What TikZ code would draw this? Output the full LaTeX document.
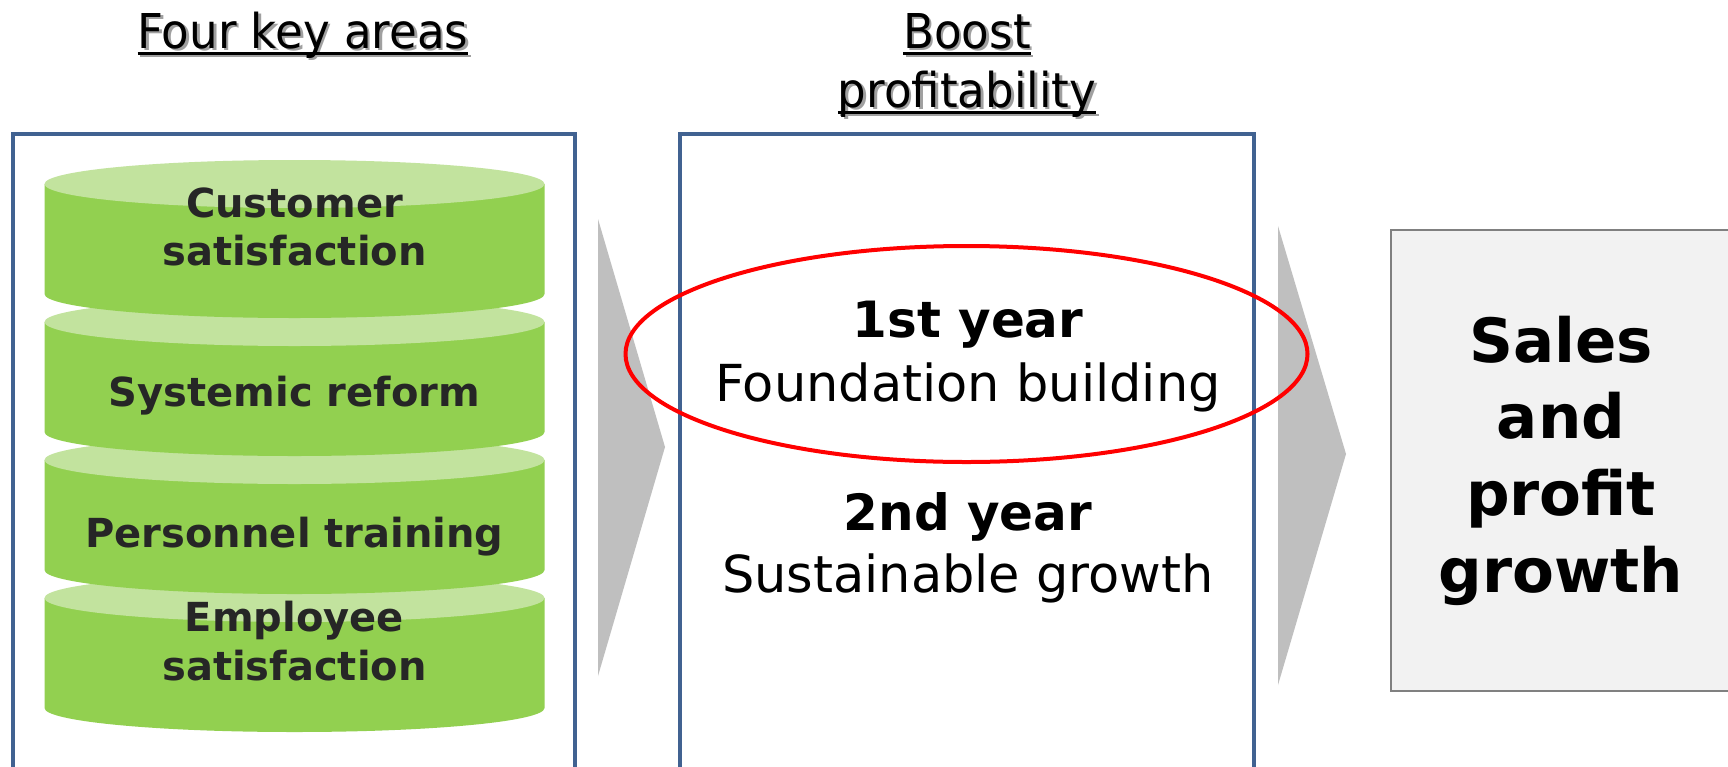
\documentclass[tikz,border=0pt]{standalone}
\usepackage{fontspec}
\setmainfont{DejaVu Sans}
\newfontfamily\headfont[FakeStretch=0.94]{DejaVu Sans}
\definecolor{boxblue}{RGB}{65,98,145}
\definecolor{cylbody}{RGB}{146,208,80}
\definecolor{cyltop}{RGB}{194,227,158}
\definecolor{cyltext}{RGB}{38,38,38}
\definecolor{arrowgray}{RGB}{191,191,191}
\definecolor{resultfill}{RGB}{242,242,242}
\definecolor{resultline}{RGB}{128,128,128}
\definecolor{shadowgray}{RGB}{160,160,160}
\begin{document}
\begin{tikzpicture}[x=1pt,y=-1pt,
  every node/.style={inner sep=0pt,outer sep=0pt},
  headtext/.style={anchor=base,font=\headfont\fontsize{48}{56}\selectfont},
  headshadow/.style={headtext,text=shadowgray},
  cyllabel/.style={anchor=base,text=cyltext,font=\fontsize{40}{48}\selectfont\bfseries},
  yearlabel/.style={anchor=base,font=\fontsize{50}{60}\selectfont\bfseries},
  phaselabel/.style={anchor=base,font=\fontsize{51}{60}\selectfont},
  resultlabel/.style={anchor=base,font=\fontsize{61}{72}\selectfont\bfseries},
  panel/.style={draw=boxblue,line width=3.5pt,fill=white},
  chevron/.style={fill=arrowgray,draw=none},
]
\useasboundingbox (0,0) rectangle (1728,766);
\clip (0,0) rectangle (1728,766);
\fill[white] (0,0) rectangle (1728,766);

% headings with a soft drop shadow and underline
\newcommand{\heading}[4]{%
  \node[headshadow] (#1s) at (#2+2.5,#3+2.5) {#4};
  \draw[shadowgray,line width=2.6pt] ([yshift=-5.5pt]#1s.base west) -- ([yshift=-5.5pt]#1s.base east);
  \node[headtext] (#1) at (#2,#3) {#4};
  \draw[black,line width=2.6pt] ([yshift=-5.5pt]#1.base west) -- ([yshift=-5.5pt]#1.base east);
}
\heading{hfour}{303}{48}{Four key areas}
\heading{hboost}{967}{48}{Boost}
\heading{hprofit}{967}{107}{profitability}

% left and middle panels
\draw[panel] (13,134) rectangle (575,790);
\draw[panel] (680,134) rectangle (1254,790);

% stacked cylinders, lowest first so each upper one overlaps the next
\newcommand{\cylinder}[1]{%
  \fill[cylbody] (44.5,#1) -- (44.5,#1+110)
     arc[start angle=180,end angle=0,x radius=250,y radius=24] -- (544.5,#1) -- cycle;
  \fill[cyltop] (294.5,#1) ellipse[x radius=250,y radius=24];
}
\cylinder{598}
\cylinder{460}
\cylinder{322}
\cylinder{184}

\node[cyllabel] (cs1) at (294.5,217) {Customer};
\node[cyllabel] (cs2) at (294.5,265.5) {satisfaction};
\node[cyllabel] (sr)  at (294.5,406) {Systemic reform};
\node[cyllabel] (pt)  at (294.5,547.5) {Personnel training};
\node[cyllabel] (es1) at (294.5,631) {Employee};
\node[cyllabel] (es2) at (294.5,680) {satisfaction};

% gray chevrons between the stages
\fill[chevron] (598,219) -- (665,447) -- (598,676) -- cycle;
\fill[chevron] (1278,226) -- (1346,454) -- (1278,685) -- cycle;

% yearly phases
\node[yearlabel]  (y1) at (968,337) {1st year};
\node[phaselabel] (p1) at (968,401) {Foundation building};
\node[yearlabel]  (y2) at (968,530) {2nd year};
\node[phaselabel] (p2) at (968,592) {Sustainable growth};

% highlight around the first year
\draw[red,line width=4pt] (966.5,354) ellipse[x radius=341,y radius=108];

% outcome box
\draw[draw=resultline,fill=resultfill,line width=2.5pt] (1391,230) rectangle (1760,691);
\node[resultlabel] (r1) at (1561,362) {Sales};
\node[resultlabel] (r2) at (1561,438) {and};
\node[resultlabel] (r3) at (1561,515) {profit};
\node[resultlabel] (r4) at (1561,592) {growth};
\end{tikzpicture}
\end{document}
